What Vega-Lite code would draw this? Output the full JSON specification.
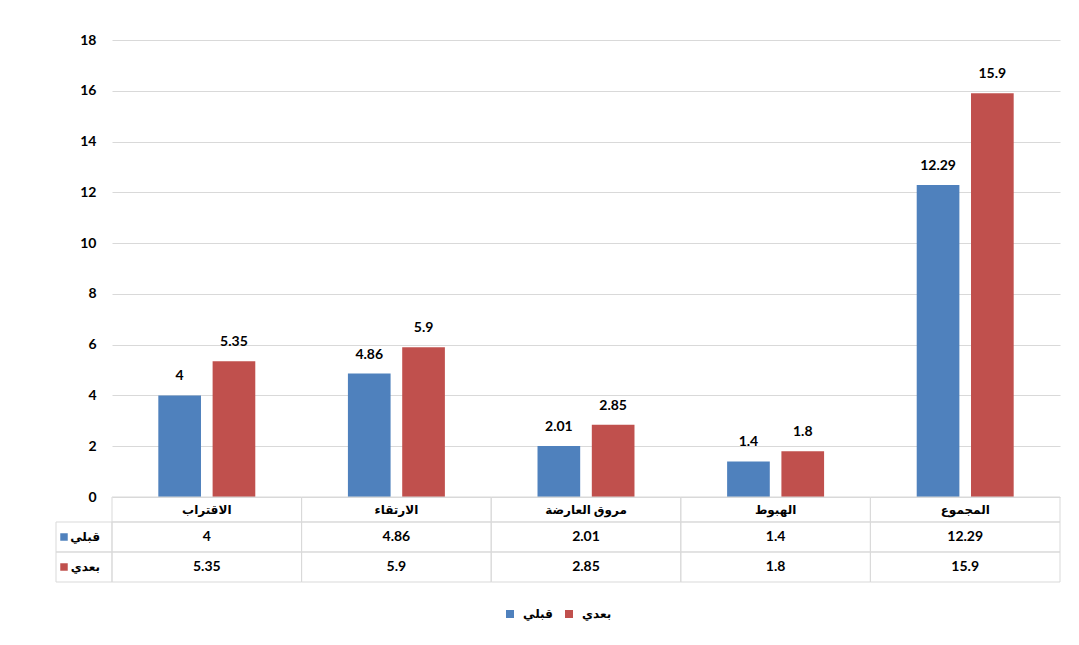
{
  "$schema": "https://vega.github.io/schema/vega-lite/v6.json",
  "padding": {"left": 55, "top": 33, "right": 5, "bottom": 5},
  "background": "white",
  "datasets": {
    "d": [
      {"cat": "الاقتراب", "series": "قبلي", "value": 4},
      {"cat": "الاقتراب", "series": "بعدي", "value": 5.35},
      {"cat": "الارتقاء", "series": "قبلي", "value": 4.86},
      {"cat": "الارتقاء", "series": "بعدي", "value": 5.9},
      {"cat": "مروق العارضة", "series": "قبلي", "value": 2.01},
      {"cat": "مروق العارضة", "series": "بعدي", "value": 2.85},
      {"cat": "الهبوط", "series": "قبلي", "value": 1.4},
      {"cat": "الهبوط", "series": "بعدي", "value": 1.8},
      {"cat": "المجموع", "series": "قبلي", "value": 12.29},
      {"cat": "المجموع", "series": "بعدي", "value": 15.9}
    ],
    "cats": [
      {"cat": "الاقتراب"},
      {"cat": "الارتقاء"},
      {"cat": "مروق العارضة"},
      {"cat": "الهبوط"},
      {"cat": "المجموع"}
    ],
    "series": [
      {"series": "قبلي"},
      {"series": "بعدي"}
    ]
  },
  "columns": 2,
  "spacing": 0,
  "bounds": "flush",
  "align": "each",
  "resolve": {"scale": {"x": "independent", "y": "independent", "color": "shared"}},
  "config": {
    "view": {"stroke": null},
    "font": "Lato, DejaVu Sans",
    "text": {"font": "Lato, DejaVu Sans", "color": "#000"},
    "axis": {"labelFont": "Lato, DejaVu Sans"},
    "legend": {"labelFont": "Lato, DejaVu Sans"}
  },
  "concat": [
    {
      "width": 56, "height": 457,
      "data": {"values": [{}]},
      "mark": {"type": "text"},
      "encoding": {"text": {"value": ""}}
    },
    {
      "width": 948, "height": 457,
      "data": {"name": "d"},
      "encoding": {
        "x": {"field": "cat", "type": "nominal", "scale": {"domain": ["الاقتراب", "الارتقاء", "مروق العارضة", "الهبوط", "المجموع"], "paddingInner": 0, "paddingOuter": 0}, "axis": null},
        "xOffset": {"field": "series", "type": "nominal", "scale": {"domain": ["قبلي", "بعدي"], "paddingInner": 0.214, "paddingOuter": 0.853}},
        "y": {"field": "value", "type": "quantitative", "scale": {"domain": [0, 18], "nice": false},
          "axis": {"values": [0, 2, 4, 6, 8, 10, 12, 14, 16, 18], "domain": false, "ticks": false, "title": null, "labelFontWeight": "bold", "labelFontSize": 14, "labelColor": "#000", "labelPadding": 16, "gridColor": "#d9d9d9", "gridWidth": 1}}
      },
      "layer": [
        {
          "mark": {"type": "bar"},
          "encoding": {
            "color": {"field": "series", "type": "nominal", "scale": {"domain": ["قبلي", "بعدي"], "range": ["#4F81BD", "#C0504D"]},
              "legend": {"orient": "none", "legendX": 448, "legendY": 568, "direction": "horizontal", "title": null, "symbolType": "square", "symbolSize": 64, "symbolStrokeWidth": 0, "labelFontSize": 12, "labelFontWeight": "bold", "labelColor": "#000", "columnPadding": 10, "labelOffset": 7}}
          }
        },
        {
          "mark": {"type": "text", "fontWeight": "bold", "fontSize": 14, "baseline": "alphabetic", "dy": -15},
          "encoding": {"text": {"field": "value", "type": "nominal"}}
        }
      ]
    },
    {
      "width": 56, "height": 25,
      "data": {"values": [{}]},
      "mark": {"type": "text"},
      "encoding": {"text": {"value": ""}}
    },
    {
      "width": 948, "height": 25,
      "data": {"name": "cats"},
      "encoding": {
        "x": {"field": "cat", "type": "nominal", "scale": {"domain": ["الاقتراب", "الارتقاء", "مروق العارضة", "الهبوط", "المجموع"], "paddingInner": 0, "paddingOuter": 0}, "axis": null}
      },
      "layer": [
        {"mark": {"type": "rect", "fillOpacity": 0, "stroke": "#d9d9d9", "strokeWidth": 1}},
        {"mark": {"type": "text", "fontWeight": "bold", "fontSize": 12, "baseline": "middle"}, "encoding": {"text": {"field": "cat", "type": "nominal"}}}
      ]
    },
    {
      "width": 56, "height": 60,
      "data": {"name": "series"},
      "encoding": {
        "y": {"field": "series", "type": "nominal", "scale": {"domain": ["قبلي", "بعدي"], "paddingInner": 0, "paddingOuter": 0}, "axis": null}
      },
      "layer": [
        {"mark": {"type": "rect", "fillOpacity": 0, "stroke": "#d9d9d9", "strokeWidth": 1}},
        {"mark": {"type": "square", "size": 56, "opacity": 1, "filled": true, "xOffset": -20},
          "encoding": {"color": {"field": "series", "type": "nominal", "scale": {"domain": ["قبلي", "بعدي"], "range": ["#4F81BD", "#C0504D"]}}}},
        {"mark": {"type": "text", "fontWeight": "bold", "fontSize": 12, "align": "right", "baseline": "middle", "dx": 16},
          "encoding": {"text": {"field": "series", "type": "nominal"}}}
      ]
    },
    {
      "width": 948, "height": 60,
      "data": {"name": "d"},
      "encoding": {
        "x": {"field": "cat", "type": "nominal", "scale": {"domain": ["الاقتراب", "الارتقاء", "مروق العارضة", "الهبوط", "المجموع"], "paddingInner": 0, "paddingOuter": 0}, "axis": null},
        "y": {"field": "series", "type": "nominal", "scale": {"domain": ["قبلي", "بعدي"], "paddingInner": 0, "paddingOuter": 0}, "axis": null}
      },
      "layer": [
        {"mark": {"type": "rect", "fillOpacity": 0, "stroke": "#d9d9d9", "strokeWidth": 1}},
        {"mark": {"type": "text", "fontWeight": "bold", "fontSize": 14, "baseline": "middle"}, "encoding": {"text": {"field": "value", "type": "nominal"}}}
      ]
    }
  ]
}
